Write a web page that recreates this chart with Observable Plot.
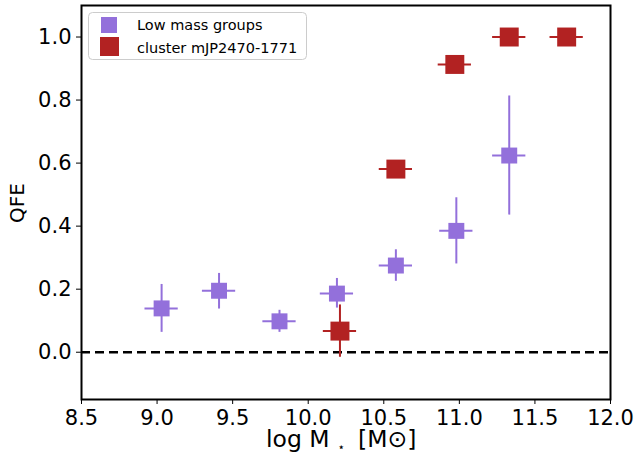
<!DOCTYPE html>
<html><head><meta charset="utf-8">
<script src="https://cdn.jsdelivr.net/npm/d3@7"></script>
<script src="https://cdn.jsdelivr.net/npm/@observablehq/plot@0.6"></script>
<style>
body{margin:0;background:#fff;}
#wrap{position:relative;width:635px;height:454px;font-family:"DejaVu Sans";}
</style></head><body><div id="wrap"></div>
<script>
// Low mass groups
const lowMass = [9.03, 9.41, 9.81, 10.19, 10.58, 10.98, 11.33];
const lowQFE  = [0.139, 0.195, 0.098, 0.186, 0.275, 0.385, 0.624];
const lowLo   = [0.063, 0.137, 0.063, 0.140, 0.225, 0.280, 0.435];
const lowHi   = [0.215, 0.250, 0.133, 0.234, 0.325, 0.490, 0.813];
// Cluster mJP2470-1771
const clMass = [10.21, 10.58, 10.97, 11.33, 11.71];
const clQFE  = [0.067, 0.581, 0.913, 1.0, 1.0];
const clLo   = [-0.016, 0.581, 0.913, 1.0, 1.0];
const clHi   = [0.150, 0.581, 0.913, 1.0, 1.0];
const massHalfBin = 0.11;
const xTicks = [8.5, 9.0, 9.5, 10.0, 10.5, 11.0, 11.5, 12.0];
const yTicks = [0.0, 0.2, 0.4, 0.6, 0.8, 1.0];
const seriesNames = ["Low mass groups", "cluster mJP2470-1771"];

const purple = "#9370DB", red = "#B22222";
const low = lowMass.map((m, i) => ({m, q: lowQFE[i], lo: lowLo[i], hi: lowHi[i]}));
const cl = clMass.map((m, i) => ({m, q: clQFE[i], lo: clLo[i], hi: clHi[i]}));

const chart = Plot.plot({
  width: 635, height: 454,
  marginLeft: 81, marginRight: 25, marginTop: 5, marginBottom: 55,
  style: {fontFamily: "DejaVu Sans", fontSize: "21px", color: "black", background: "white", overflow: "visible"},
  x: {domain: [8.5, 12], ticks: xTicks, tickFormat: d3.format(".1f"), tickSize: 5, tickPadding: 6, label: null},
  y: {domain: [-0.15, 1.1], ticks: yTicks, tickFormat: d3.format(".1f"), tickSize: 5, tickPadding: 5, label: null},
  marks: [
    Plot.ruleY([0], {stroke: "black", strokeWidth: 2.5, strokeDasharray: "9,5"}),
    Plot.ruleX(low, {x: "m", y1: "lo", y2: "hi", stroke: purple, strokeWidth: 2}),
    Plot.ruleY(low, {y: "q", x1: d => d.m - massHalfBin, x2: d => d.m + massHalfBin, stroke: purple, strokeWidth: 2}),
    Plot.dot(low, {x: "m", y: "q", symbol: "square", r: 9, fill: purple}),
    Plot.ruleX(cl, {x: "m", y1: "lo", y2: "hi", stroke: red, strokeWidth: 2}),
    Plot.ruleY(cl, {y: "q", x1: d => d.m - massHalfBin, x2: d => d.m + massHalfBin, stroke: red, strokeWidth: 2}),
    Plot.dot(cl, {x: "m", y: "q", symbol: "square", r: 10.7, fill: red}),
    Plot.frame({stroke: "black", strokeWidth: 2})
  ]
});
document.getElementById("wrap").appendChild(chart);

const svg = d3.select(chart);
// x axis label
const xl = svg.append("text").attr("x", 266).attr("y", 447).attr("text-anchor", "start")
  .attr("font-size", 23.5).attr("fill", "black");
xl.append("tspan").text("log M");
xl.append("tspan").attr("dx", 8).attr("dy", 4).attr("font-size", 12).text("⋆");
xl.append("tspan").attr("dx", 13).attr("dy", -4).text("[M⊙]");
// y axis label
svg.append("text").attr("transform", "translate(24,203) rotate(-90)").attr("text-anchor", "middle")
  .attr("font-size", 20).attr("fill", "black").text("QFE");

// legend
const lg = svg.append("g");
lg.append("rect").attr("x", 88.5).attr("y", 12.5).attr("width", 218).attr("height", 47).attr("rx", 4)
  .attr("fill", "white").attr("fill-opacity", 0.8).attr("stroke", "#cccccc");
lg.append("rect").attr("x", 101).attr("y", 17).attr("width", 16).attr("height", 16).attr("fill", purple);
lg.append("rect").attr("x", 100).attr("y", 37).attr("width", 19).attr("height", 19).attr("fill", red);
lg.append("text").attr("x", 137).attr("y", 30).attr("text-anchor", "start").attr("font-size", 14.5).attr("fill", "black").text(seriesNames[0]);
lg.append("text").attr("x", 137).attr("y", 53).attr("text-anchor", "start").attr("font-size", 14.5).attr("fill", "black").text(seriesNames[1]);
</script></body></html>
